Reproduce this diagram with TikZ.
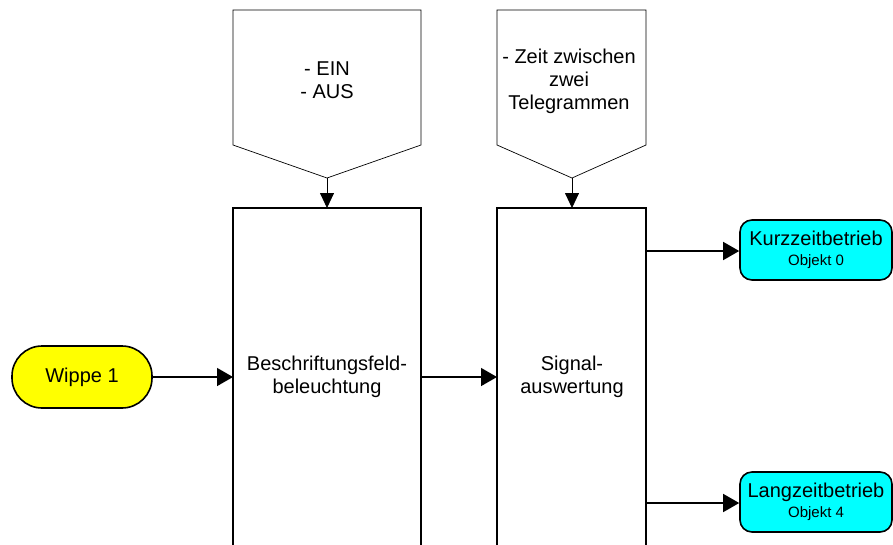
\documentclass[tikz,border=0pt]{standalone}
\usepackage{fontspec}
\setmainfont{Liberation Sans}
\usetikzlibrary{arrows.meta}
\definecolor{termcyan}{RGB}{0,255,255}
\definecolor{termyellow}{RGB}{255,255,0}
\begin{document}
\begin{tikzpicture}[x=1pt,y=-1pt,
  thickline/.style={line width=1.6pt},
  mainarrow/.style={line width=1.4pt,-{Triangle[length=16pt,width=18pt]}},
  thinarrow/.style={line width=0.8pt,-{Triangle[length=15pt,width=14pt]}},
  lbl/.style={font=\fontsize{20}{23}\selectfont,align=center,inner sep=0pt},
  term/.style={draw,line width=1.6pt,fill=termcyan,rounded corners=12pt,minimum width=152pt,minimum height=60pt,align=center,inner sep=0pt,font=\fontsize{20}{22}\selectfont},
  pent/.style={draw,line width=0.7pt,fill=white}]
\useasboundingbox (0,0) rectangle (893,544);
\clip (0,0) rectangle (893,544);
% pentagons
\draw[pent] (233,10) -- (421,10) -- (421,145) -- (327,178) -- (233,145) -- cycle;
\coordinate (t1) at (327,178);
\node[lbl] (p1) at (327,80) {- EIN\\- AUS};
\draw[pent] (497,10) -- (646,10) -- (646,145) -- (572,178) -- (497,145) -- cycle;
\coordinate (t2) at (572,178);
\node[lbl] (p2) at (569,81) {- Zeit zwischen\\zwei\\Telegrammen};
% main boxes
\draw[thickline] (233,560) -- (233,208) -- (421,208) -- (421,560);
\draw[thickline] (497,560) -- (497,208) -- (646,208) -- (646,560);
\coordinate (b1top) at (327,208);
\coordinate (b2top) at (572,208);
\node[lbl] (b1) at (327,377) {Beschriftungsfeld-\\beleuchtung};
\node[lbl] (b2) at (572,377) {Signal-\\auswertung};
% Wippe
\node[draw,line width=1.6pt,fill=termyellow,rounded corners=30pt,minimum width=140pt,minimum height=62pt,inner sep=0pt,font=\fontsize{20}{22}\selectfont] (w) at (82,377) {Wippe 1};
% outputs
\node[term] (k) at (816,250) {Kurzzeitbetrieb\\[-2pt]{\fontsize{15}{16}\selectfont Objekt 0}};
\node[term] (l) at (816,502) {Langzeitbetrieb\\[-2pt]{\fontsize{15}{16}\selectfont Objekt 4}};
% connectors
\coordinate (b1l) at (233,377);
\coordinate (b1r) at (421,377);
\coordinate (b2l) at (497,377);
\coordinate (b2k) at (646,251);
\coordinate (b2lz) at (646,503);
\draw[thinarrow] (t1) -- (b1top);
\draw[thinarrow] (t2) -- (b2top);
\draw[mainarrow] (w.east) -- (b1l);
\draw[mainarrow] (b1r) -- (b2l);
\draw[mainarrow] (b2k) -- (k.west |- b2k);
\draw[mainarrow] (b2lz) -- (l.west |- b2lz);
\end{tikzpicture}
\end{document}
